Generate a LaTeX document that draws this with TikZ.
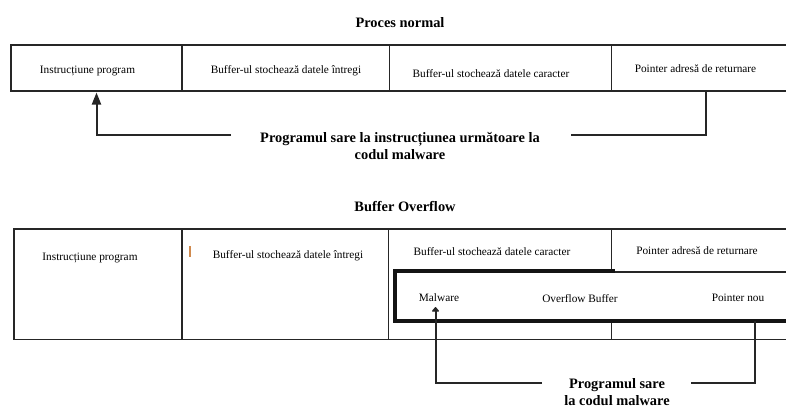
\documentclass[tikz,border=0pt]{standalone}
\usepackage{fontspec}
\setmainfont{Liberation Serif}
\usetikzlibrary{arrows.meta}
\definecolor{linegray}{HTML}{262626}
\definecolor{caret}{HTML}{D08A4E}
\begin{document}
\begin{tikzpicture}[x=1pt,y=-1pt,
  cell/.style={draw=linegray, line width=1.8pt, inner sep=0pt, outer sep=0pt},
  wire/.style={draw=linegray, line width=2pt},
  bigtip/.style={-{Triangle[length=12pt,width=9pt]}},
  smalltip/.style={-{Triangle[length=5pt,width=8pt,round]}},
  txt/.style={font=\fontsize{11.3}{13}\selectfont, inner sep=0pt},
  heading/.style={font=\fontsize{14.4}{17}\selectfont\bfseries, inner sep=0pt, align=center}]

% canvas
\path[clip] (0,0) rectangle (786,408);

% ---------- normal process ----------
\node[heading] (title1) at (400,23) {Proces normal};

\node[cell, minimum width=171pt,   minimum height=46pt] (a1) at (96.5,68)  {};
\node[cell, minimum width=207.5pt, minimum height=46pt] (a2) at (285.75,68) {};
\node[cell, minimum width=222pt,   minimum height=46pt] (a3) at (500.5,68) {};
\node[cell, minimum width=188.5pt, minimum height=46pt] (a4) at (705.75,68) {};

\node[txt] (ta1) at (87.5,71)  {Instrucțiune program};
\node[txt] (ta2) at (286,71)   {Buffer-ul stochează datele întregi};
\node[txt] (ta3) at (491,74)   {Buffer-ul stochează datele caracter};
\node[txt] (ta4) at (695.5,69) {Pointer adresă de returnare};

\node[heading] (jump1) at (400,146) {Programul sare la instrucțiunea următoare la\\codul malware};

\coordinate (j1) at (231,135);
\coordinate (j2) at (571,135);
\draw[wire, bigtip, shorten >=1.5pt] (j1) -| (a1.south);
\draw[wire] (j2) -| (a4.south);

% ---------- buffer overflow ----------
\node[heading] (title2) at (405,207) {Buffer Overflow};

\node[cell, minimum width=168pt,   minimum height=110.5pt] (b1) at (98,284.25)     {};
\node[cell, minimum width=206.5pt, minimum height=110.5pt] (b2) at (285.25,284.25) {};
\node[cell, minimum width=411.5pt, minimum height=110.5pt] (b3) at (594.25,284.25) {};
\node[cell, minimum width=188.5pt, minimum height=43pt]    (b4) at (705.75,250.5)  {};
\draw[cell] (611.5,322) -- (611.5,339.5);

% overflowing region
\draw[draw=black!92, line width=4pt] (810,320.5) -- (394.5,320.5) -- (394.5,270.5) -- (614.5,270.5);

\draw[caret, line width=1.1pt] (190,246) -- (190,257);

\node[txt] (tb1) at (90,258)  {Instrucțiune program};
\node[txt] (tb2) at (288,256) {Buffer-ul stochează datele întregi};
\node[txt] (tb3) at (492,252) {Buffer-ul stochează datele caracter};
\node[txt] (tb4) at (697,251) {Pointer adresă de returnare};

\node[txt] (mal) at (439,298) {Malware};
\node[txt] (ovf) at (580,299) {Overflow Buffer};
\node[txt] (pnou) at (738,298) {Pointer nou};

\node[heading] (jump2) at (617,392) {Programul sare\\la codul malware};

\coordinate (malin) at (435.5,307);
\coordinate (pnout) at (755,320.5);
\coordinate (j3) at (542,383);
\coordinate (j4) at (691,383);
\draw[wire, smalltip] (j3) -| (malin);
\draw[wire] (j4) -| (pnout);
\end{tikzpicture}
\end{document}
